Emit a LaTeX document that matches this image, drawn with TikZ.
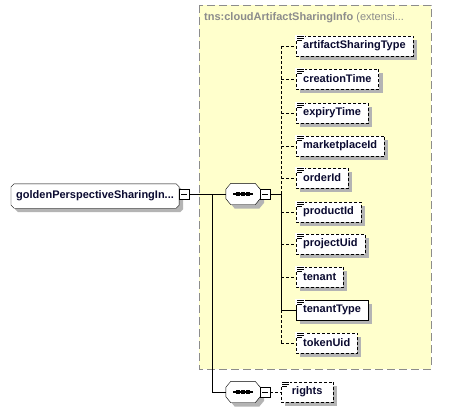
\documentclass[tikz,border=0pt]{standalone}
\usepackage{fontspec}
\setmainfont{Liberation Sans}
\usetikzlibrary{calc}
\definecolor{ylw}{HTML}{FFFFCC}
\definecolor{ybord}{HTML}{8C8C8C}
\definecolor{shdc}{HTML}{B4B4B4}
\definecolor{txtc}{HTML}{0A0A30}
\definecolor{ttlc}{HTML}{8C8C8C}
\def\octo#1#2#3#4{($(#1.north west)+(#2+#4,#4)$) -- ($(#1.north east)+(-#2+#4,#4)$) -- ($(#1.north east)+(#4,#3+#4)$) -- ($(#1.south east)+(#4,-#3+#4)$) -- ($(#1.south east)+(-#2+#4,#4)$) -- ($(#1.south west)+(#2+#4,#4)$) -- ($(#1.south west)+(#4,-#3+#4)$) -- ($(#1.north west)+(#4,#3+#4)$) -- cycle}
\begin{document}
\begin{tikzpicture}[x=1pt,y=-1pt,
  elem/.style={font=\bfseries\fontsize{11}{13}\selectfont, text=txtc,
     minimum height=20pt, inner xsep=7pt, inner ysep=0pt, anchor=west},
  lbl/.style={font=\bfseries\fontsize{11}{13}\selectfont, text=txtc, inner sep=0pt},
  dsh/.style={dash pattern=on 3pt off 2pt},
  rootbox/.style={font=\bfseries\fontsize{11}{13}\selectfont, text=txtc, anchor=west,
     minimum height=24pt, inner xsep=5pt, inner ysep=0pt},
  comp/.style={minimum width=34pt, minimum height=21pt, inner sep=0pt},
  minusbox/.style={draw, fill=white, minimum size=10pt, inner sep=0pt,
     path picture={\draw ([xshift=2pt]path picture bounding box.west) -- ([xshift=-2pt]path picture bounding box.east);}},
  ybox/.style={draw=ybord, fill=ylw, dash pattern=on 8pt off 4pt}
]
\useasboundingbox (0,0) rectangle (458,412);
\fill[white] (0,0) rectangle (458,412);
% complex type container
\draw[ybox] (199,5) rectangle (431,369);

% phantom nodes (sizes only)
\node[anchor=west, inner sep=0pt, text=ttlc, font=\fontsize{11}{13}\selectfont] (title) at (204,18)
  {\bfseries tns:cloudArtifactSharingInfo\mdseries\ (extensi...};
\node[rootbox] (root) at (11,196) {\phantom{goldenPerspectiveSharingIn...}};
\node[comp] (c1) at (243,194) {};
\node[comp] (c2) at (243,392) {};
\node[elem] (n1) at (296,46) {\phantom{artifactSharingType}};
\node[elem] (n2) at (296,79) {\phantom{creationTime}};
\node[elem] (n3) at (296,113) {\phantom{expiryTime}};
\node[elem] (n4) at (296,146) {\phantom{marketplaceId}};
\node[elem] (n5) at (296,178) {\phantom{orderId}};
\node[elem] (n6) at (296,212) {\phantom{productId}};
\node[elem] (n7) at (296,244) {\phantom{projectUid}};
\node[elem] (n8) at (296,277) {\phantom{tenant}};
\node[elem] (n9) at (296,310) {\phantom{tenantType}};
\node[elem] (n10) at (296,343) {\phantom{tokenUid}};
\node[elem, minimum width=52pt] (n11) at (281,392) {\phantom{rights}};

% shadows
\fill[shdc] \octo{root}{3}{3}{4};
\fill[shdc] \octo{c1}{5}{6}{4};
\fill[shdc] \octo{c2}{5}{6}{4};
\foreach \n in {n1,n2,n3,n4,n5,n6,n7,n8,n9,n10,n11}{
  \fill[shdc] ($(\n.north west)+(4,4)$) rectangle ($(\n.south east)+(4,4)$);
}
% outlines
\draw[fill=white] \octo{root}{3}{3}{0};
\draw[fill=white] \octo{c1}{5}{6}{0};
\draw[fill=white] \octo{c2}{5}{6}{0};
\foreach \n in {n1,n2,n3,n4,n5,n6,n7,n8,n10,n11}{
  \draw[fill=white, dsh] (\n.north west) rectangle (\n.south east);
}
\draw[fill=white] (n9.north west) rectangle (n9.south east);

% texts
\node[lbl] (troot) at (root.center) {goldenPerspectiveSharingIn...};
\foreach \n/\t in {n1/artifactSharingType, n2/creationTime, n3/expiryTime,
  n4/marketplaceId, n5/orderId, n6/productId, n7/projectUid, n8/tenant, n9/tenantType, n10/tokenUid, n11/rights}{
  \node[lbl] (t\n) at (\n.center) {\t};
}

% minus boxes
\node[minusbox] (rm) at (184,194) {};
\node[minusbox] (m1) at (265,194) {};
\node[minusbox] (m2) at (265,392) {};

% sequence icons
\foreach \c in {c1,c2}{
  \draw[line width=1.2pt] ($(\c)+(-10,0)$) -- ($(\c)+(10,0)$);
  \foreach \dx in {-5,0,5}{\fill ($(\c)+(\dx-1.8,-1.8)$) rectangle ($(\c)+(\dx+1.8,1.8)$);}
}

% element icons
\foreach \n in {n1,n2,n3,n4,n5,n6,n7,n8,n9,n10,n11}{
  \fill[white] ($(\n.north west)+(-0.6,-0.6)$) rectangle ($(\n.north west)+(8.5,5.5)$);
  \draw[line width=0.8pt] ($(\n.north west)+(1,0.5)$) -- +(7,0);
  \draw[line width=0.8pt] ($(\n.north west)+(1,2.5)$) -- +(7,0);
  \draw[line width=0.8pt] ($(\n.north west)+(1,4.5)$) -- +(5,0);
}

% connectors
\coordinate (j) at (212,194);
\coordinate (s) at (281,194);
\draw (rm.east) -- (c1.west);
\draw (j) |- (c2.west);
\draw (m1.east) -- (s);
\draw (s) -- (s |- n9.west) -- (n9.west);
\draw[dsh] (s) -- (s |- n1.west);
\draw[dsh] (s |- n9.west) -- (s |- n10.west);
\foreach \n in {n1,n2,n3,n4,n5,n6,n7,n8,n10}{
  \draw[dsh] (s |- \n.west) -- (\n.west);
}
\draw[dsh] (m2.east) -- (n11.west);
\end{tikzpicture}
\end{document}
